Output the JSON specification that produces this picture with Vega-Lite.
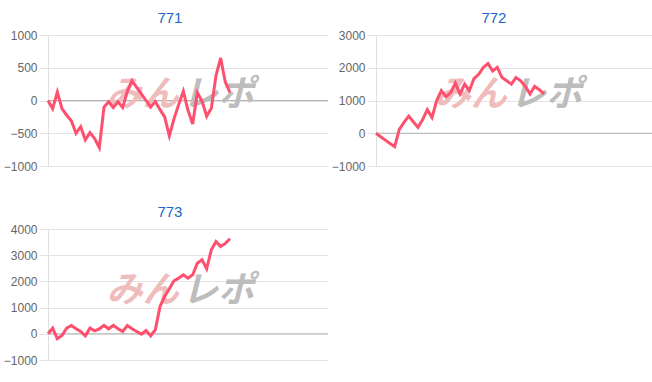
{
  "$schema": "https://vega.github.io/schema/vega-lite/v6.json",
  "padding": {"left": 3, "top": 11, "right": 0, "bottom": 0},
  "columns": 2,
  "spacing": {"row": 33, "column": 2},
  "config": {
    "view": {"stroke": null},
    "title": {"fontSize": 15, "color": "#1a66cc", "font": "Liberation Sans", "fontWeight": "normal", "frame": "bounds", "offset": 3},
    "axis": {"labelFont": "Liberation Sans", "labelFontSize": 12, "labelColor": "#666666", "domainColor": "#e0e0e0", "grid": true, "gridColor": "#e3e3e3", "tickColor": "#e3e3e3", "tickSize": 9, "labelPadding": 2, "format": "d"}
  },
  "datasets": {
    "p771": [
      {"i":0,"v":0},{"i":1,"v":-125},{"i":2,"v":130},{"i":3,"v":-125},{"i":4,"v":-225},{"i":5,"v":-310},{"i":6,"v":-500},{"i":7,"v":-400},{"i":8,"v":-600},{"i":9,"v":-490},
      {"i":10,"v":-580},{"i":11,"v":-720},{"i":12,"v":-100},{"i":13,"v":-20},{"i":14,"v":-108},{"i":15,"v":-17},{"i":16,"v":-108},{"i":17,"v":140},{"i":18,"v":300},{"i":19,"v":200},
      {"i":20,"v":100},{"i":21,"v":0},{"i":22,"v":-100},{"i":23,"v":-17},{"i":24,"v":-140},{"i":25,"v":-250},{"i":26,"v":-540},{"i":27,"v":-280},{"i":28,"v":-60},{"i":29,"v":140},
      {"i":30,"v":-150},{"i":31,"v":-360},{"i":32,"v":120},{"i":33,"v":-10},{"i":34,"v":-240},{"i":35,"v":-120},{"i":36,"v":380},{"i":37,"v":650},{"i":38,"v":280},{"i":39,"v":120}
    ],
    "p772": [
      {"i":0,"v":0},{"i":1,"v":-105},{"i":2,"v":-210},{"i":3,"v":-315},{"i":4,"v":-410},{"i":5,"v":120},{"i":6,"v":330},{"i":7,"v":520},{"i":8,"v":350},{"i":9,"v":180},
      {"i":10,"v":420},{"i":11,"v":720},{"i":12,"v":480},{"i":13,"v":1000},{"i":14,"v":1300},{"i":15,"v":1110},{"i":16,"v":1240},{"i":17,"v":1530},{"i":18,"v":1200},{"i":19,"v":1500},
      {"i":20,"v":1300},{"i":21,"v":1670},{"i":22,"v":1800},{"i":23,"v":2010},{"i":24,"v":2130},{"i":25,"v":1900},{"i":26,"v":2010},{"i":27,"v":1700},{"i":28,"v":1600},{"i":29,"v":1500},
      {"i":30,"v":1700},{"i":31,"v":1600},{"i":32,"v":1430},{"i":33,"v":1200},{"i":34,"v":1430},{"i":35,"v":1330},{"i":36,"v":1200}
    ],
    "p773": [
      {"i":0,"v":0},{"i":1,"v":216},{"i":2,"v":-190},{"i":3,"v":-64},{"i":4,"v":216},{"i":5,"v":318},{"i":6,"v":190},{"i":7,"v":89},{"i":8,"v":-76},{"i":9,"v":216},
      {"i":10,"v":115},{"i":11,"v":190},{"i":12,"v":318},{"i":13,"v":190},{"i":14,"v":318},{"i":15,"v":190},{"i":16,"v":89},{"i":17,"v":318},{"i":18,"v":190},{"i":19,"v":89},
      {"i":20,"v":-13},{"i":21,"v":127},{"i":22,"v":-76},{"i":23,"v":153},{"i":24,"v":1043},{"i":25,"v":1425},{"i":26,"v":1718},{"i":27,"v":2023},{"i":28,"v":2125},{"i":29,"v":2252},
      {"i":30,"v":2125},{"i":31,"v":2252},{"i":32,"v":2697},{"i":33,"v":2824},{"i":34,"v":2481},{"i":35,"v":3206},{"i":36,"v":3524},{"i":37,"v":3333},{"i":38,"v":3450},{"i":39,"v":3626}
    ],
    "one": [{"k": 1}]
  },
  "concat": [
    {
      "title": {"text": "771", "dx": 4},
      "width": 280, "height": 131,
      "layer": [
        {"data": {"name": "one"}, "mark": {"type": "rule", "color": "#b3b3b3", "strokeWidth": 1},
         "encoding": {"y": {"datum": 0, "type": "quantitative", "axis": {"title": null, "values": [-1000, -500, 0, 500, 1000]}}}},
        {"data": {"name": "one"}, "mark": {"type": "text", "text": "みん", "font": "Noto Sans CJK JP", "fontSize": 36, "fontWeight": "bold", "fontStyle": "italic", "color": "#efbcbc"},
         "encoding": {"x": {"datum": 20.3, "type": "quantitative", "axis": null}, "y": {"datum": 85, "type": "quantitative", "axis": {"title": null, "values": [-1000, -500, 0, 500, 1000]}}}},
        {"data": {"name": "one"}, "mark": {"type": "text", "text": "レポ", "font": "Noto Sans CJK JP", "fontSize": 36, "fontWeight": "bold", "fontStyle": "italic", "color": "#bdbdbd"},
         "encoding": {"x": {"datum": 36.5, "type": "quantitative", "axis": null}, "y": {"datum": 85, "type": "quantitative", "axis": {"title": null, "values": [-1000, -500, 0, 500, 1000]}}}},
        {"data": {"name": "p771"}, "mark": {"type": "line", "color": "#ff4f6f", "strokeWidth": 3},
         "encoding": {
           "x": {"field": "i", "type": "quantitative", "scale": {"domain": [0, 60], "nice": false, "zero": false}, "axis": null},
           "y": {"field": "v", "type": "quantitative", "scale": {"domain": [-1000, 1000], "nice": false},
                 "axis": {"title": null, "values": [-1000, -500, 0, 500, 1000]}}
         }}
      ]
    },
    {
      "title": {"text": "772"},
      "width": 280, "height": 131,
      "layer": [
        {"data": {"name": "one"}, "mark": {"type": "rule", "color": "#b3b3b3", "strokeWidth": 1},
         "encoding": {"y": {"datum": 0, "type": "quantitative", "axis": {"title": null, "values": [-1000, 0, 1000, 2000, 3000]}}}},
        {"data": {"name": "one"}, "mark": {"type": "text", "text": "みん", "font": "Noto Sans CJK JP", "fontSize": 36, "fontWeight": "bold", "fontStyle": "italic", "color": "#efbcbc"},
         "encoding": {"x": {"datum": 20.3, "type": "quantitative", "axis": null}, "y": {"datum": 1175, "type": "quantitative", "axis": {"title": null, "values": [-1000, 0, 1000, 2000, 3000]}}}},
        {"data": {"name": "one"}, "mark": {"type": "text", "text": "レポ", "font": "Noto Sans CJK JP", "fontSize": 36, "fontWeight": "bold", "fontStyle": "italic", "color": "#bdbdbd"},
         "encoding": {"x": {"datum": 36.5, "type": "quantitative", "axis": null}, "y": {"datum": 1175, "type": "quantitative", "axis": {"title": null, "values": [-1000, 0, 1000, 2000, 3000]}}}},
        {"data": {"name": "p772"}, "mark": {"type": "line", "color": "#ff4f6f", "strokeWidth": 3},
         "encoding": {
           "x": {"field": "i", "type": "quantitative", "scale": {"domain": [0, 60], "nice": false, "zero": false}, "axis": null},
           "y": {"field": "v", "type": "quantitative", "scale": {"domain": [-1000, 3000], "nice": false},
                 "axis": {"title": null, "values": [-1000, 0, 1000, 2000, 3000]}}
         }}
      ]
    },
    {
      "title": {"text": "773", "dx": 4},
      "width": 280, "height": 131,
      "layer": [
        {"data": {"name": "one"}, "mark": {"type": "rule", "color": "#b3b3b3", "strokeWidth": 1},
         "encoding": {"y": {"datum": 0, "type": "quantitative", "axis": {"title": null, "values": [-1000, 0, 1000, 2000, 3000, 4000]}}}},
        {"data": {"name": "one"}, "mark": {"type": "text", "text": "みん", "font": "Noto Sans CJK JP", "fontSize": 36, "fontWeight": "bold", "fontStyle": "italic", "color": "#efbcbc"},
         "encoding": {"x": {"datum": 20.3, "type": "quantitative", "axis": null}, "y": {"datum": 1640, "type": "quantitative", "axis": {"title": null, "values": [-1000, 0, 1000, 2000, 3000, 4000]}}}},
        {"data": {"name": "one"}, "mark": {"type": "text", "text": "レポ", "font": "Noto Sans CJK JP", "fontSize": 36, "fontWeight": "bold", "fontStyle": "italic", "color": "#bdbdbd"},
         "encoding": {"x": {"datum": 36.5, "type": "quantitative", "axis": null}, "y": {"datum": 1640, "type": "quantitative", "axis": {"title": null, "values": [-1000, 0, 1000, 2000, 3000, 4000]}}}},
        {"data": {"name": "p773"}, "mark": {"type": "line", "color": "#ff4f6f", "strokeWidth": 3},
         "encoding": {
           "x": {"field": "i", "type": "quantitative", "scale": {"domain": [0, 60], "nice": false, "zero": false}, "axis": null},
           "y": {"field": "v", "type": "quantitative", "scale": {"domain": [-1000, 4000], "nice": false},
                 "axis": {"title": null, "values": [-1000, 0, 1000, 2000, 3000, 4000]}}
         }}
      ]
    }
  ]
}
